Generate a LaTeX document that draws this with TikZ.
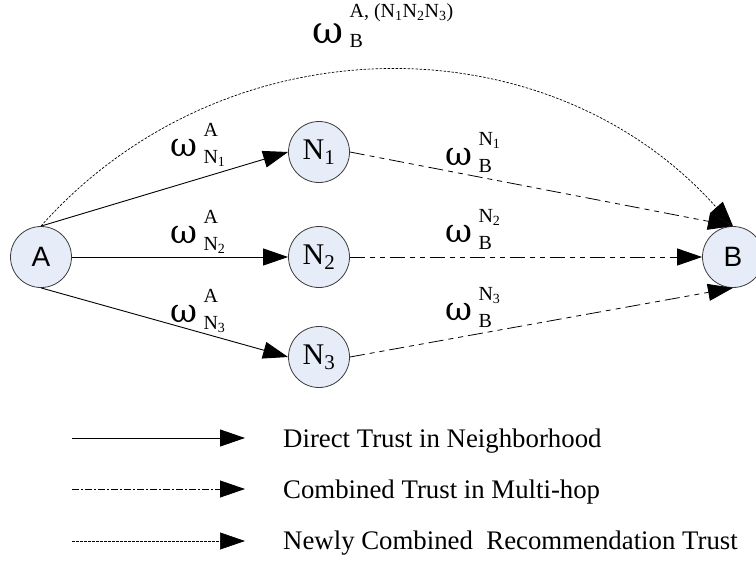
\documentclass[tikz,border=0pt]{standalone}
\usepackage{fontspec}
\usepackage{graphicx}
\setmainfont{Liberation Serif}
\newfontfamily\nodesans{Liberation Sans}
\newfontfamily\greekserif{DejaVu Serif}
\usetikzlibrary{arrows.meta}
\definecolor{nodefill}{RGB}{231,237,248}
\definecolor{rim}{RGB}{60,60,60}

% trust label: omega with a stacked upper and lower index
% #1 name, #2 position of the omega (base west), #3 upper, #4 lower
\newcommand\trustlabel[4]{%
  \node[omega, anchor=base west] (#1) at (#2) {ω};
  \node[idx, anchor=base west] (#1u) at ([xshift=6pt,yshift=20pt]#1.base east) {#3};
  \node[idx, anchor=base west] (#1d) at ([xshift=6pt,yshift=-7pt]#1.base east) {#4};
}

\begin{document}
\begin{tikzpicture}[x=1pt,y=-1pt,
  peer/.style={circle, draw=rim, fill=nodefill, line width=0.8pt,
    minimum size=61pt, inner sep=0pt},
  sanslabel/.style={font=\nodesans\fontsize{28}{28}\selectfont},
  serlabel/.style={font=\fontsize{30}{30}\selectfont},
  omega/.style={inner sep=0pt, font=\greekserif\fontsize{33}{33}\selectfont},
  idx/.style={inner sep=0pt, font=\fontsize{20}{20}\selectfont},
  legendtext/.style={inner sep=0pt, anchor=base west, font=\fontsize{26.8}{30}\selectfont},
  tip/.style={-{Triangle[length=25pt,width=17pt]}},
  direct/.style={tip, line width=0.9pt},
  combined/.style={tip, line width=0.8pt,
    dash pattern=on 15pt off 5pt on 5pt off 5pt on 5pt off 5pt},
  combinedkey/.style={tip, line width=0.8pt,
    dash pattern=on 7pt off 2pt on 2pt off 2pt},
  recommend/.style={tip, line width=0.7pt, dash pattern=on 2.5pt off 1.5pt},
]
\useasboundingbox (0,0) rectangle (756,563);

% peers
\node[peer, sanslabel] (A) at (41,257) {A};
\node[peer, serlabel] (N1) at (319,152) {N\textsubscript{1}};
\node[peer, serlabel] (N2) at (319,257) {N\textsubscript{2}};
\node[peer, serlabel] (N3) at (319,357) {N\textsubscript{3}};
\node[peer, sanslabel] (B) at (733,257) {B};

% direct trust A -> neighbours
\draw[direct] (A.north) -- (N1.west);
\draw[direct] (A.east) -- (N2.west);
\draw[direct] (A.south) -- (N3.west);

% combined trust neighbours -> B
\draw[combined] (N1.east) -- (B.north);
\draw[combined] (N2.east) -- (B.west);
\draw[combined] (N3.east) -- (B.south);

% newly combined recommendation trust A -> B
\draw[recommend] (A.north) .. controls +(184,-207) and +(-184,-207) .. (B.north);

% labels
\trustlabel{wa1}{170,156}{A}{N\textsubscript{1}}
\trustlabel{wa2}{170,243}{A}{N\textsubscript{2}}
\trustlabel{wa3}{170,322}{A}{N\textsubscript{3}}
\trustlabel{wb1}{445,165}{N\textsubscript{1}}{B}
\trustlabel{wb2}{445,242}{N\textsubscript{2}}{B}
\trustlabel{wb3}{445,320}{N\textsubscript{3}}{B}

\node[omega, anchor=base west, font=\greekserif\fontsize{38}{38}\selectfont] (wab) at (312,43) {ω};
\node[idx, anchor=base west] (wabu) at ([xshift=6pt,yshift=26pt]wab.base east)
  {A, (N\textsubscript{1}N\textsubscript{2}N\textsubscript{3})};
\node[idx, anchor=base west] (wabd) at ([xshift=6pt,yshift=-4pt]wab.base east) {B};

% legend
\coordinate (k1s) at (72,438);  \coordinate (k1e) at (245,438);
\coordinate (k2s) at (72,489);  \coordinate (k2e) at (245,489);
\coordinate (k3s) at (72,541);  \coordinate (k3e) at (245,541);
\draw[direct] (k1s) -- (k1e);
\draw[combinedkey] (k2s) -- (k2e);
\draw[recommend] (k3s) -- (k3e);
\node[legendtext] (t1) at (283,447) {Direct Trust in Neighborhood};
\node[legendtext] (t2) at (283,498) {Combined Trust in Multi-hop};
\node[legendtext] (t3) at (283,549) {Newly Combined\ \ Recommendation Trust};
\end{tikzpicture}
\end{document}
